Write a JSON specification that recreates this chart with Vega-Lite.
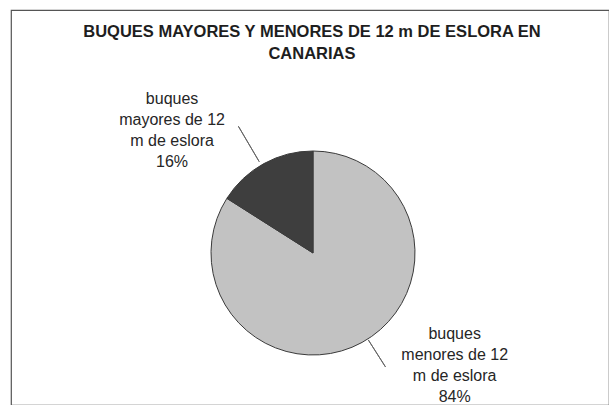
{
  "$schema": "https://vega.github.io/schema/vega-lite/v6.json",
  "width": 609,
  "height": 405,
  "autosize": {"type": "fit", "contains": "padding"},
  "padding": {"top": 10, "left": 11, "right": 0, "bottom": 0},
  "background": "white",
  "view": {"stroke": "#555555", "strokeWidth": 1.2, "fill": "white"},
  "config": {"view": {"stroke": "#555555", "strokeWidth": 1.2}},
  "title": {
    "text": ["BUQUES MAYORES Y MENORES DE 12 m DE ESLORA EN", "CANARIAS"],
    "font": "Liberation Sans",
    "fontSize": 16.5,
    "fontWeight": "bold",
    "color": "#1e1e1e",
    "lineHeight": 21.5,
    "anchor": "middle",
    "frame": "group",
    "baseline": "top",
    "offset": -52,
    "dx": 2
  },
  "data": {
    "values": [
      {"categoria": "menores", "value": 84, "label": "buques\nmenores de 12\nm de eslora\n84%"},
      {"categoria": "mayores", "value": 16, "label": "buques\nmayores de 12\nm de eslora\n16%"}
    ]
  },
  "transform": [
    {"stack": "value", "groupby": [], "as": ["v0", "v1"], "sort": [{"field": "categoria", "order": "descending"}]}
  ],
  "layer": [
    {
      "mark": {"type": "arc", "radius": 102, "stroke": "#3a3a3a", "strokeWidth": 1, "x": {"expr": "width/2+3"}, "y": {"expr": "height/2+45.5"}},
      "encoding": {
        "theta": {"field": "v0", "type": "quantitative", "scale": {"domain": [0, 100]}},
        "theta2": {"field": "v1"},
        "color": {"field": "categoria", "type": "nominal", "scale": {"domain": ["menores", "mayores"], "range": ["#c2c2c2", "#3e3e3e"]}, "legend": null}
      }
    },
    {
      "transform": [{"filter": "datum.categoria == 'mayores'"}],
      "mark": {"type": "arc", "radius": 147, "radius2": 106, "thetaOffset": 0.473, "theta2Offset": -0.532, "fill": null, "stroke": "#666666", "strokeWidth": 1, "x": {"expr": "width/2+3"}, "y": {"expr": "height/2+45.5"}},
      "encoding": {
        "theta": {"field": "v0", "type": "quantitative", "scale": {"domain": [0, 100]}},
        "theta2": {"field": "v1"}
      }
    },
    {
      "transform": [{"filter": "datum.categoria == 'menores'"}],
      "mark": {"type": "arc", "radius": 135, "radius2": 103, "thetaOffset": 2.575, "theta2Offset": -2.703, "fill": null, "stroke": "#666666", "strokeWidth": 1, "x": {"expr": "width/2+3"}, "y": {"expr": "height/2+45.5"}},
      "encoding": {
        "theta": {"field": "v0", "type": "quantitative", "scale": {"domain": [0, 100]}},
        "theta2": {"field": "v1"}
      }
    },
    {
      "transform": [{"filter": "datum.categoria == 'mayores'"}],
      "mark": {"type": "text", "radius": 141, "thetaOffset": 0.5027, "dx": -73, "dy": -30.5, "align": "center", "baseline": "middle", "lineBreak": "\n", "lineHeight": 21, "font": "Liberation Sans", "fontSize": 16, "color": "#262626", "x": {"expr": "width/2+3"}, "y": {"expr": "height/2+45.5"}},
      "encoding": {
        "theta": {"field": "v0", "type": "quantitative", "scale": {"domain": [0, 100]}},
        "text": {"field": "label"}
      }
    },
    {
      "transform": [{"filter": "datum.categoria == 'menores'"}],
      "mark": {"type": "text", "radius": 128, "thetaOffset": 2.6389, "dx": 80, "dy": -31.5, "align": "center", "baseline": "middle", "lineBreak": "\n", "lineHeight": 21, "font": "Liberation Sans", "fontSize": 16, "color": "#262626", "x": {"expr": "width/2+3"}, "y": {"expr": "height/2+45.5"}},
      "encoding": {
        "theta": {"field": "v0", "type": "quantitative", "scale": {"domain": [0, 100]}},
        "text": {"field": "label"}
      }
    }
  ]
}
